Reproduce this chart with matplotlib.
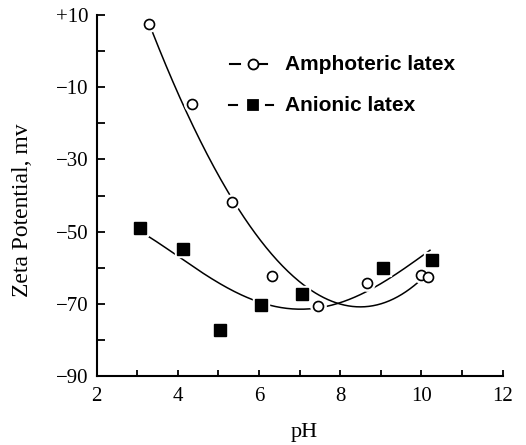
import numpy as np
import matplotlib
matplotlib.use("Agg")
import matplotlib.pyplot as plt

# ---- data ----
amph_ph = [3.29, 4.35, 5.33, 6.31, 7.45, 8.66, 10.0, 10.15]
amph_zeta = [7.5, -14.7, -41.8, -62.3, -70.6, -64.3, -62.0, -62.5]

anion_ph = [3.07, 4.12, 5.05, 6.05, 7.06, 9.06, 10.27]
anion_zeta = [-49.1, -54.9, -77.3, -70.4, -67.4, -60.2, -57.9]

# smooth hand-drawn trend curves
amph_curve_ph = [3.37, 4.13, 5.20, 5.45, 6.35, 7.01, 7.50, 7.99, 8.65, 9.31, 9.80, 10.09]
amph_curve_zeta = [4.9, -13.5, -39.4, -44.0, -55.1, -63.9, -68.5, -69.9, -70.4, -69.0, -65.3, -62.0]
anion_curve_ph = [3.26, 4.13, 4.96, 5.78, 6.51, 7.17, 7.99, 8.81, 9.64, 10.21]
anion_curve_zeta = [-51.4, -57.4, -63.9, -69.0, -71.3, -71.0, -69.4, -65.7, -60.2, -54.9]

x_ticks = [2, 4, 6, 8, 10, 12]
y_ticks = [10, 0, -10, -20, -30, -40, -50, -60, -70, -80, -90]
y_tick_labels = ["+10", "", "\u221210", "", "\u221230", "", "\u221250", "", "\u221270", "", "\u221290"]
series_labels = ["Amphoteric latex", "Anionic latex"]

serif = ["Liberation Serif", "DejaVu Serif"]
sans = ["Liberation Sans", "DejaVu Sans"]

fig = plt.figure(figsize=(5.26, 4.45), dpi=100)
ax = fig.add_axes([0.1838, 0.155, 0.7718, 0.8113])

def smooth(xs, ys, deg):
    c = np.polyfit(xs, ys, deg)
    xx = np.linspace(min(xs), max(xs), 200)
    return xx, np.polyval(c, xx)

xa, ya = smooth(amph_curve_ph, amph_curve_zeta, 4)
xb, yb = smooth(anion_curve_ph, anion_curve_zeta, 4)
ax.plot(xa, ya, color="black", lw=1.1, zorder=2)
ax.plot(xb, yb, color="black", lw=1.1, zorder=2)

# white halos so the curves break at the markers
ax.plot(amph_ph, amph_zeta, "o", ms=11, color="white", zorder=3)
ax.plot(anion_ph, anion_zeta, "s", ms=11, color="white", zorder=3)
ax.plot(amph_ph, amph_zeta, "o", ms=7.2, mfc="white", mec="black", mew=1.2, zorder=4)
ax.plot(anion_ph, anion_zeta, "s", ms=8, mfc="black", mec="black", zorder=4)

ax.set_xlim(2, 12)
ax.set_ylim(-90, 10)
ax.set_xticks(np.arange(2, 13, 1), minor=True)
ax.set_xticks(x_ticks)
ax.set_xticklabels([str(v) for v in x_ticks], fontfamily=serif, fontsize=15)
ax.set_yticks(y_ticks)
ax.set_yticklabels(y_tick_labels, fontfamily=serif, fontsize=15)

ax.spines["top"].set_visible(False)
ax.spines["right"].set_visible(False)
for s in ("left", "bottom"):
    ax.spines[s].set_linewidth(1.5)
ax.tick_params(axis="y", direction="in", length=6, width=1.3, pad=6)
ax.tick_params(axis="x", which="both", direction="in", length=4.5, width=1.3, pad=8)

ax.set_xlabel("pH", fontfamily=serif, fontsize=16)
ax.set_ylabel("Zeta Potential, mv", fontfamily=serif, fontsize=17)
ax.xaxis.set_label_coords(0.512, -0.13)
ax.yaxis.set_label_coords(-0.158, 0.46)

# manual legend
tr = ax.transAxes
def fx(px):
    return (px - 96.7) / (502.7 - 96.7)
def fy(py):
    return (376 - py) / (376 - 15)

rows = [(64, "o", "white", 7.2, (230, 240), (260, 267)),
        (105, "s", "black", 7, (229, 237), (266.5, 273))]
for (py, mk, fc, ms, d1, d2), lab in zip(rows, series_labels):
    y = fy(py)
    ax.plot([fx(d1[0]), fx(d1[1])], [y, y], color="black", lw=1.5, transform=tr,
            clip_on=False, zorder=5)
    ax.plot([fx(d2[0]), fx(d2[1])], [y, y], color="black", lw=1.5, transform=tr,
            clip_on=False, zorder=5)
    ax.plot([fx(253.3)], [y], mk, ms=ms, mfc=fc, mec="black", mew=1.3, transform=tr,
            clip_on=False, zorder=5)
    ax.text(fx(285), y, lab, transform=tr, fontfamily=sans, fontweight="bold",
            fontsize=15, va="center", ha="left")

fig.savefig("out.png", dpi=100)
